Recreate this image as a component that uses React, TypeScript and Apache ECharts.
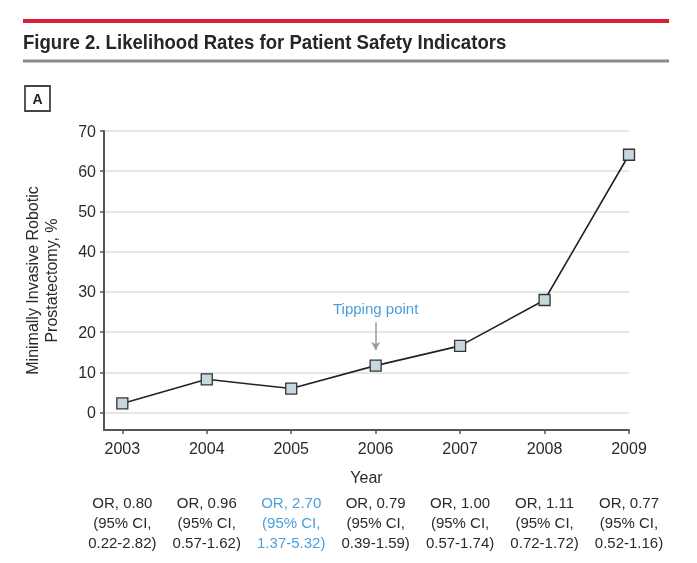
import React, { useEffect, useRef } from 'react';
import * as echarts from 'echarts';

// Robotic prostatectomy share by year (%)
const years = [2003, 2004, 2005, 2006, 2007, 2008, 2009];
const robotShare = [2.3, 8.3, 6.0, 11.7, 16.6, 28.0, 64.1];
const oddsRatios = ['0.80', '0.96', '2.70', '0.79', '1.00', '1.11', '0.77'];
const ciRanges = ['0.22-2.82', '0.57-1.62', '1.37-5.32', '0.39-1.59', '0.57-1.74', '0.72-1.72', '0.52-1.16'];
const yTicks = [0, 10, 20, 30, 40, 50, 60, 70];
const highlightYear = 2005;
const tippingYear = 2006;
const tippingArrow = [22.5, 15.6]; // start / end of the arrow, in %

const FONT = '"Liberation Sans", Arial, sans-serif';
const TEXT = '#2a2a2a';
const BLUE = '#4a9fdc';
const AXIS = '#555';

const X_MIN = 2002.783;
const X_MAX = 2009;

const App = () => {
    const chartRef = useRef<HTMLDivElement>(null);

    useEffect(() => {
        if (!chartRef.current) return;
        const myChart = echarts.init(chartRef.current, undefined, { renderer: 'svg' });

        const orLabel = (v: number) => {
            const i = years.indexOf(v);
            if (i < 0) return '';
            const lines = [`OR, ${oddsRatios[i]}`, '(95% CI,', `${ciRanges[i]})`];
            if (v === highlightYear) return lines.map(l => `{hl|${l}}`).join('\n');
            return lines.join('\n');
        };

        const option = {
            animation: false,
            textStyle: { fontFamily: FONT },
            grid: { left: 104, right: 68, top: 131, bottom: 133 },
            graphic: [
                { type: 'rect', shape: { x: 23, y: 19, width: 646, height: 4 }, style: { fill: '#d71f3b' } },
                {
                    type: 'text', x: 23, y: 42, scaleX: 0.93,
                    style: {
                        text: 'Figure 2. Likelihood Rates for Patient Safety Indicators',
                        font: `bold 20px ${FONT}`, fill: '#262626', verticalAlign: 'middle'
                    }
                },
                { type: 'rect', shape: { x: 23, y: 59.5, width: 646, height: 3 }, style: { fill: '#8a8a8a' } },
                { type: 'rect', shape: { x: 25, y: 86, width: 25, height: 25 }, style: { fill: '#fff', stroke: '#444', lineWidth: 1.8 } },
                {
                    type: 'text', x: 37.5, y: 98.5,
                    style: { text: 'A', font: `bold 14px ${FONT}`, fill: '#222', align: 'center', verticalAlign: 'middle' }
                }
            ],
            xAxis: [
                {
                    type: 'value',
                    min: X_MIN,
                    max: X_MAX,
                    minInterval: 1,
                    maxInterval: 1,
                    name: 'Year',
                    nameLocation: 'middle',
                    nameGap: 39,
                    nameTextStyle: { fontSize: 16, color: TEXT },
                    axisLine: { onZero: false, lineStyle: { color: AXIS, width: 2 } },
                    axisTick: { show: true, customValues: years, length: 4, lineStyle: { color: AXIS, width: 1.5 } },
                    axisLabel: { customValues: years, margin: 10, fontSize: 16, color: TEXT, formatter: (v: number) => String(v) },
                    splitLine: { show: false }
                },
                {
                    type: 'value',
                    position: 'bottom',
                    min: X_MIN,
                    max: X_MAX,
                    minInterval: 1,
                    maxInterval: 1,
                    axisLine: { show: false, onZero: false },
                    axisTick: { show: false },
                    splitLine: { show: false },
                    axisLabel: {
                        customValues: years,
                        margin: 62,
                        fontSize: 15,
                        lineHeight: 20,
                        color: TEXT,
                        formatter: orLabel,
                        rich: { hl: { color: BLUE, fontSize: 15, lineHeight: 20 } }
                    }
                }
            ],
            yAxis: {
                type: 'value',
                min: -4.3,
                max: 70,
                minInterval: 10,
                maxInterval: 10,
                name: 'Minimally Invasive Robotic\nProstatectomy, %',
                nameLocation: 'middle',
                nameGap: 43,
                nameTextStyle: { fontSize: 16, lineHeight: 19, color: TEXT },
                axisLine: { show: true, onZero: false, lineStyle: { color: AXIS, width: 2 } },
                axisTick: { show: true, customValues: yTicks, length: 4, lineStyle: { color: AXIS, width: 1.5 } },
                axisLabel: { customValues: yTicks, margin: 8, fontSize: 16, color: TEXT },
                splitLine: { lineStyle: { color: '#e6e6e6', width: 2 } }
            },
            series: [
                {
                    type: 'line',
                    data: years.map((y, i) => [y, robotShare[i]]),
                    symbol: 'rect',
                    symbolSize: 11,
                    lineStyle: { color: '#222', width: 1.6 },
                    itemStyle: { color: '#c6d7de', borderColor: '#333', borderWidth: 1.3 },
                    markLine: {
                        silent: true,
                        symbol: ['none', 'arrow'],
                        symbolSize: [7, 8],
                        lineStyle: { color: '#9a9a9a', width: 1.5, type: 'solid' },
                        label: { show: true, position: 'start', formatter: 'Tipping point', color: BLUE, fontSize: 15, distance: 6 },
                        data: [[{ coord: [tippingYear, tippingArrow[0]] }, { coord: [tippingYear, tippingArrow[1]] }]]
                    }
                }
            ]
        };

        myChart.setOption(option);

        return () => {
            myChart.dispose();
        };
    }, []);

    return <div ref={chartRef} style={{ position: 'fixed', left: 0, top: 0, width: '697px', height: '563px' }} />;
};

export default App;
